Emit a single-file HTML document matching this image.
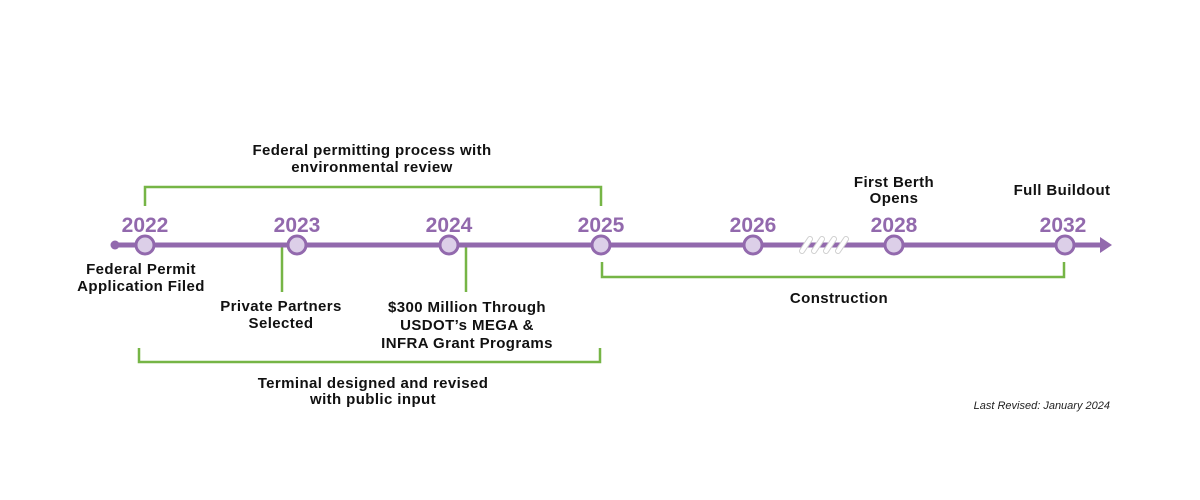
<!DOCTYPE html>
<html><head><meta charset="utf-8"><style>
html,body{margin:0;padding:0;background:#fff;width:1200px;height:500px;overflow:hidden}
svg{display:block}
.y{font-family:"Liberation Sans",sans-serif;font-weight:bold;font-size:21px;fill:#9269ad;text-anchor:middle}
.l{font-family:"Liberation Sans",sans-serif;font-weight:bold;font-size:15px;letter-spacing:0.4px;fill:#111;text-anchor:middle}
.g{stroke:#76b546;stroke-width:2.5;fill:none}
</style></head><body>
<svg width="1200" height="500" viewBox="0 0 1200 500">
<polyline class="g" points="145,206 145,187 601,187 601,206"/>
<polyline class="g" points="602,262 602,277 1064,277 1064,262"/>
<polyline class="g" points="139,348 139,362 600,362 600,348"/>
<line class="g" x1="282" y1="246" x2="282" y2="292"/>
<line class="g" x1="466" y1="246" x2="466" y2="292"/>
<line x1="115" y1="245" x2="1102" y2="245" stroke="#9269ad" stroke-width="5"/>
<circle cx="115" cy="245" r="4.5" fill="#9269ad"/>
<polygon points="1100,237 1112,245 1100,253" fill="#9269ad"/>
<g stroke="#cfcfcf" stroke-width="6" stroke-linecap="round">
<line x1="802" y1="251" x2="810" y2="239"/><line x1="814" y1="251" x2="822" y2="239"/><line x1="826" y1="251" x2="834" y2="239"/><line x1="838" y1="251" x2="846" y2="239"/>
</g>
<g stroke="#fff" stroke-width="4" stroke-linecap="round">
<line x1="802" y1="251" x2="810" y2="239"/><line x1="814" y1="251" x2="822" y2="239"/><line x1="826" y1="251" x2="834" y2="239"/><line x1="838" y1="251" x2="846" y2="239"/>
</g>
<g fill="#dccfe8" stroke="#9269ad" stroke-width="3">
<circle cx="145" cy="245" r="9"/><circle cx="297" cy="245" r="9"/><circle cx="449" cy="245" r="9"/>
<circle cx="601" cy="245" r="9"/><circle cx="753" cy="245" r="9"/><circle cx="894" cy="245" r="9"/>
<circle cx="1065" cy="245" r="9"/>
</g>
<text class="y" x="145" y="232">2022</text>
<text class="y" x="297" y="232">2023</text>
<text class="y" x="449" y="232">2024</text>
<text class="y" x="601" y="232">2025</text>
<text class="y" x="753" y="232">2026</text>
<text class="y" x="894" y="232">2028</text>
<text class="y" x="1063" y="232">2032</text>
<text class="l" x="372" y="155">Federal permitting process with</text>
<text class="l" x="372" y="172">environmental review</text>
<text class="l" x="894" y="187">First Berth</text>
<text class="l" x="894" y="203">Opens</text>
<text class="l" x="1062" y="195">Full Buildout</text>
<text class="l" x="141" y="274">Federal Permit</text>
<text class="l" x="141" y="291">Application Filed</text>
<text class="l" x="281" y="311">Private Partners</text>
<text class="l" x="281" y="328">Selected</text>
<text class="l" x="467" y="312">$300 Million Through</text>
<text class="l" x="467" y="330">USDOT’s MEGA &amp;</text>
<text class="l" x="467" y="348">INFRA Grant Programs</text>
<text class="l" x="839" y="303">Construction</text>
<text class="l" x="373" y="388">Terminal designed and revised</text>
<text class="l" x="373" y="404">with public input</text>
<text x="1110" y="409" font-family="Liberation Sans,sans-serif" font-style="italic" font-size="11" fill="#222" text-anchor="end">Last Revised: January 2024</text>
</svg>
</body></html>
